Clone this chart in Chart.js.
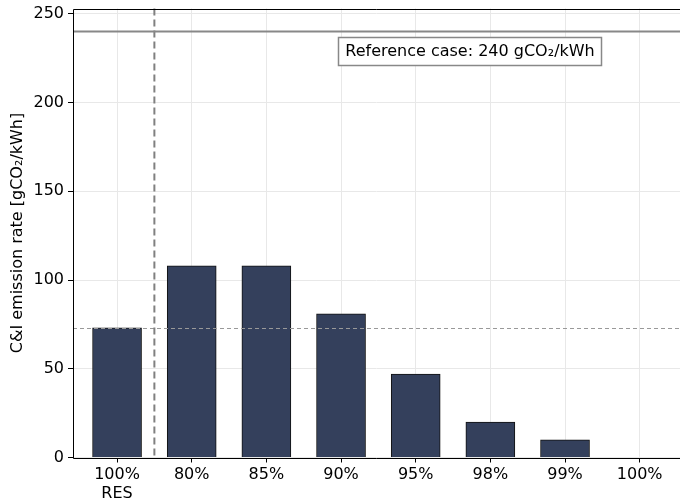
<!DOCTYPE html>
<html><head><meta charset="utf-8">
<script src="https://cdn.jsdelivr.net/npm/chart.js@4"></script>
<style>html,body{margin:0;padding:0;background:#fff}#wrap{width:680px;height:501px}</style>
</head><body><div id="wrap"><canvas id="c"></canvas></div>
<script>
const categories = [['100%','RES'], '80%', '85%', '90%', '95%', '98%', '99%', '100%'];
const emissionRates = [73, 108, 108, 81, 47, 20, 10, 0];
const referenceCase = 240;
const resLevel = 73;
const yTicks = [0, 50, 100, 150, 200, 250];
const referenceLabel = 'Reference case: 240 gCO\u2082/kWh';

const FONT = 'DejaVu Sans';
const FS = 16;
const overlay = {
  id: 'overlay',
  afterDatasetsDraw(chart) {
    const {ctx, chartArea: a, scales: {x, y}} = chart;
    ctx.save();
    ctx.strokeStyle = '#999'; ctx.lineWidth = 1; ctx.setLineDash([4, 3]);
    ctx.beginPath(); const yr = Math.round(y.getPixelForValue(resLevel)) + 0.5;
    ctx.moveTo(a.left, yr); ctx.lineTo(a.right, yr); ctx.stroke();
    ctx.strokeStyle = '#808080'; ctx.lineWidth = 2; ctx.setLineDash([7, 4]);
    const xv = x.getPixelForValue(0.5);
    ctx.beginPath(); ctx.moveTo(xv, a.top); ctx.lineTo(xv, a.bottom); ctx.stroke();
    ctx.setLineDash([]); ctx.strokeStyle = '#888'; ctx.lineWidth = 2;
    const y240 = y.getPixelForValue(referenceCase);
    ctx.beginPath(); ctx.moveTo(a.left, y240); ctx.lineTo(a.right, y240); ctx.stroke();
    ctx.strokeStyle = '#000'; ctx.lineWidth = 1;
    ctx.beginPath();
    ctx.moveTo(a.right, Math.round(a.top) + 0.5); ctx.lineTo(Math.round(a.left) + 0.5, Math.round(a.top) + 0.5);
    ctx.lineTo(Math.round(a.left) + 0.5, Math.round(a.bottom) + 0.5); ctx.lineTo(a.right, Math.round(a.bottom) + 0.5);
    ctx.stroke();
    ctx.font = FS + 'px "' + FONT + '"';
    const tw = ctx.measureText(referenceLabel).width;
    const cx = 470, cy = 51;
    const bw = tw + 14, bh = 28;
    ctx.fillStyle = '#fff';
    ctx.fillRect(cx - bw / 2, cy - bh / 2, bw, bh);
    ctx.strokeStyle = '#888'; ctx.lineWidth = 1.5;
    ctx.strokeRect(Math.round(cx - bw / 2) + 0.5, Math.round(cy - bh / 2) + 0.5, Math.round(bw), bh);
    ctx.fillStyle = '#000'; ctx.textAlign = 'center'; ctx.textBaseline = 'middle';
    ctx.fillText(referenceLabel, cx, cy + 1);
    ctx.restore();
  }
};

new Chart(document.getElementById('c'), {
  type: 'bar',
  data: {
    datasets: [{
      data: emissionRates.map((v, i) => ({x: i, y: v})),
      backgroundColor: 'rgb(52,64,92)',
      borderColor: '#111',
      borderWidth: 1,
      barThickness: 49
    }]
  },
  options: {
    responsive: true, maintainAspectRatio: false, animation: false,
    layout: {padding: 0},
    plugins: {legend: {display: false}, tooltip: {enabled: false}},
    scales: {
      x: {
        type: 'linear', min: -0.59, max: 7.54, offset: false,
        afterBuildTicks: s => { s.ticks = categories.map((c, i) => ({value: i})); },
        afterFit: s => { s.height = 43.5; s.paddingLeft = 0; s.paddingRight = 0; },
        ticks: {
          color: '#000', font: {family: FONT, size: FS}, padding: 3, maxRotation: 0, autoSkip: false,
          callback: (v) => categories[v]
        },
        grid: {color: '#e8e8e8', tickColor: '#000', tickLength: 5, lineWidth: 1, offset: false},
        border: {display: false}
      },
      y: {
        min: 0, max: 253,
        afterBuildTicks: s => { s.ticks = yTicks.map(v => ({value: v})); },
        afterFit: s => { s.width = 73; s.paddingTop = 8.5; s.paddingBottom = 0; },
        ticks: {color: '#000', font: {family: FONT, size: FS}, padding: 4},
        grid: {color: '#e8e8e8', tickColor: '#000', tickLength: 5},
        border: {display: false},
        title: {display: true, text: 'C&I emission rate [gCO\u2082/kWh]', color: '#000', font: {family: FONT, size: FS}, padding: {top: 8, bottom: 0}}
      }
    }
  },
  plugins: [overlay]
});
</script></body></html>
